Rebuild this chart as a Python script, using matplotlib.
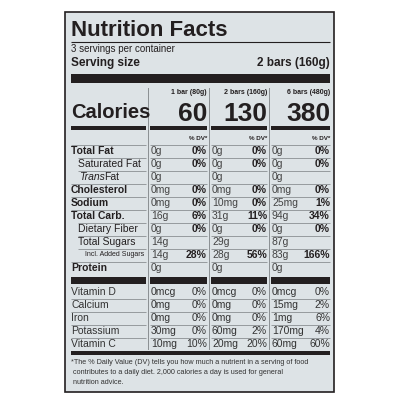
import matplotlib
matplotlib.use("Agg")
import matplotlib.pyplot as plt
from matplotlib.patches import Rectangle

FAM = ['Liberation Sans Narrow', 'Liberation Sans', 'DejaVu Sans']
plt.rcParams['font.family'] = FAM

servings = "3 servings per container"
serving_size = "2 bars (160g)"
col_headers = ["1 bar (80g)", "2 bars (160g)", "6 bars (480g)"]
calories = ["60", "130", "380"]
nutrients = ["Total Fat", "Saturated Fat", "Trans Fat", "Cholesterol", "Sodium",
             "Total Carb.", "Dietary Fiber", "Total Sugars", "Incl. Added Sugars", "Protein"]
indent = [0, 1, 1, 0, 0, 0, 1, 1, 2, 0]
bold = [1, 0, 0, 1, 1, 1, 0, 0, 0, 1]
amt1 = ["0g", "0g", "0g", "0mg", "0mg", "16g", "0g", "14g", "14g", "0g"]
dv1 = ["0%", "0%", "", "0%", "0%", "6%", "0%", "", "28%", ""]
amt2 = ["0g", "0g", "0g", "0mg", "10mg", "31g", "0g", "29g", "28g", "0g"]
dv2 = ["0%", "0%", "", "0%", "0%", "11%", "0%", "", "56%", ""]
amt3 = ["0g", "0g", "0g", "0mg", "25mg", "94g", "0g", "87g", "83g", "0g"]
dv3 = ["0%", "0%", "", "0%", "1%", "34%", "0%", "", "166%", ""]
vitamins = ["Vitamin D", "Calcium", "Iron", "Potassium", "Vitamin C"]
vamt1 = ["0mcg", "0mg", "0mg", "30mg", "10mg"]
vdv1 = ["0%", "0%", "0%", "0%", "10%"]
vamt2 = ["0mcg", "0mg", "0mg", "60mg", "20mg"]
vdv2 = ["0%", "0%", "0%", "2%", "20%"]
vamt3 = ["0mcg", "15mg", "1mg", "170mg", "60mg"]
vdv3 = ["0%", "2%", "6%", "4%", "60%"]
footnote = ["*The % Daily Value (DV) tells you how much a nutrient in a serving of food",
            " contributes to a daily diet. 2,000 calories a day is used for general",
            " nutrition advice."]

ink = "#231f20"
bg = "#dde3e6"
gray = "#8a8f92"

fig = plt.figure(figsize=(4, 4), dpi=100)
fig.patch.set_facecolor("white")
ax = fig.add_axes([0, 0, 1, 1])
ax.set_xlim(0, 400)
ax.set_ylim(400, 0)
ax.axis("off")

ax.add_patch(Rectangle((65, 12), 269, 380, facecolor=bg, edgecolor=ink, lw=1.2))
L, R = 71, 330
cols = [(150, 207), (211, 267), (271, 330)]
labR = 146

def hline(y, x0, x1, lw=0.6, c=gray):
    ax.plot([x0, x1], [y, y], color=c, lw=lw, solid_capstyle="butt")

def bar(y, h, x0, x1):
    ax.add_patch(Rectangle((x0, y), x1 - x0, h, facecolor=ink, edgecolor="none"))

ax.text(L, 30, "Nutrition Facts", fontsize=16, fontweight="bold", va="center", color=ink)
hline(42, L, R, lw=0.8, c=ink)
ax.text(L, 49.5, servings, fontsize=7, va="center", color=ink)
ax.text(L, 63, "Serving size", fontsize=8.5, fontweight="bold", va="center", color=ink)
ax.text(R, 63, serving_size, fontsize=8.5, fontweight="bold", va="center", ha="right", color=ink)
bar(74, 9, L, R)

for x in [148, 209, 269]:
    ax.plot([x, x], [88, 349], color=gray, lw=0.7)

ax.text(L, 113, "Calories", fontsize=14.5, fontweight="bold", va="center", color=ink)
for (x0, x1), h, c in zip(cols, col_headers, calories):
    ax.text(x1, 93, h, fontsize=5, fontweight="bold", ha="right", va="center", color=ink)
    ax.text(x1, 114, c, fontsize=19, fontweight="bold", ha="right", va="center", color=ink)
    bar(126, 4, x0, x1)
    ax.text(x1, 138, "% DV*", fontsize=4.5, fontweight="bold", ha="right", va="center", color=ink)
    hline(144.5, x0, x1)
bar(126, 4, L, labR)
hline(144.5, L, labR)

cols_data = [(amt1, dv1), (amt2, dv2), (amt3, dv3)]
for i, n in enumerate(nutrients):
    y = 151 + 13 * i
    fs = 5 if indent[i] == 2 else 7.5
    kw = dict(fontweight="bold") if bold[i] else {}
    if n == "Trans Fat":
        ax.text(L + 8, y, "Trans", fontsize=fs, style="italic", va="center", color=ink)
        ax.text(L + 33, y, "Fat", fontsize=fs, va="center", color=ink)
    else:
        ax.text(L + 7 * indent[i], y, n, fontsize=fs, va="center", color=ink, **kw)
    for (x0, x1), (a, d) in zip(cols, cols_data):
        ax.text(x0 + 1, y, a[i], fontsize=7.5, va="center", color="#444")
        ax.text(x1, y, d[i], fontsize=7.5, fontweight="bold", ha="right", va="center", color=ink)
    if i < len(nutrients) - 1:
        lx = L + 7 if indent[i + 1] else L
        hline(y + 6.5, lx, labR)
        for x0, x1 in cols:
            hline(y + 6.5, x0, x1)

bar(277, 7, L, labR)
for x0, x1 in cols:
    bar(277, 7, x0, x1)

vcols = [(vamt1, vdv1), (vamt2, vdv2), (vamt3, vdv3)]
for i, v in enumerate(vitamins):
    y = 292 + 13 * i
    ax.text(L, y, v, fontsize=7.5, va="center", color="#333")
    for (x0, x1), (a, d) in zip(cols, vcols):
        ax.text(x0 + 1, y, a[i], fontsize=7.5, va="center", color="#333")
        ax.text(x1, y, d[i], fontsize=7.5, ha="right", va="center", color="#333")
    if i < len(vitamins) - 1:
        hline(y + 6.5, L, labR)
        for x0, x1 in cols:
            hline(y + 6.5, x0, x1)

bar(351, 4, L, R)
for k, line in enumerate(footnote):
    ax.text(L, 362 + 10 * k, line, fontsize=5.2, va="center", color="#333")

fig.savefig("out.png", dpi=100, facecolor="white")
